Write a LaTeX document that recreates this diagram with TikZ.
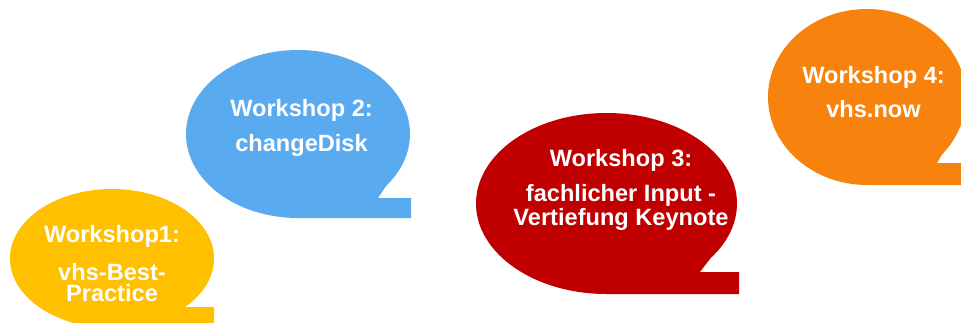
\documentclass[tikz,border=0pt]{standalone}
\usepackage{fontspec}
\setmainfont{Liberation Sans}
\definecolor{bubyellow}{HTML}{FFC000}
\definecolor{bubblue}{HTML}{5AAAF0}
\definecolor{bubred}{HTML}{C00000}
\definecolor{bugorange}{HTML}{F7820D}
\begin{document}
\begin{tikzpicture}[x=1pt,y=-1pt,
  bubtext/.style={anchor=base,inner sep=0pt,text=white,font=\fontsize{23.6}{24}\selectfont\bfseries},
  bubfill/.style={fill=#1,draw=none}]
\useasboundingbox (0,0) rectangle (961,322);
% yellow bubble
\fill[bubyellow] (112,258.5) ellipse [x radius=102, y radius=69.5];
\fill[bubyellow] (211,274) -- (185,307) -- (214,307) -- (214,328) -- (112,328) -- cycle;
% blue bubble
\fill[bubblue] (298,134) ellipse [x radius=112, y radius=84];
\fill[bubblue] (402,162) -- (378,198) -- (411,198) -- (411,218) -- (298,218) -- cycle;
% red bubble
\fill[bubred] (606.5,203.5) ellipse [x radius=130.5, y radius=90.5];
\fill[bubred] (725,239) -- (700,272) -- (739,272) -- (739,294) -- (606.5,294) -- cycle;
% orange bubble
\fill[bugorange] (867,97) ellipse [x radius=99, y radius=88];
\fill[bugorange] (957,129) -- (937,163) -- (970,163) -- (970,185) -- (867,185) -- cycle;
% texts
\node[bubtext] (y1) at (112,242.3) {Workshop1:};
\node[bubtext] (y2) at (112,280) {vhs-Best-};
\node[bubtext] (y3) at (112,301.7) {Practice};
\node[bubtext] (b1) at (301.5,116) {Workshop 2:};
\node[bubtext] (b2) at (301.5,151.5) {changeDisk};
\node[bubtext] (r1) at (621,166.7) {Workshop 3:};
\node[bubtext] (r2) at (621,201.7) {fachlicher Input -};
\node[bubtext] (r3) at (621,225) {Vertiefung Keynote};
\node[bubtext] (o1) at (873.5,83.3) {Workshop 4:};
\node[bubtext] (o2) at (873.5,117.3) {vhs.now};
\end{tikzpicture}
\end{document}
